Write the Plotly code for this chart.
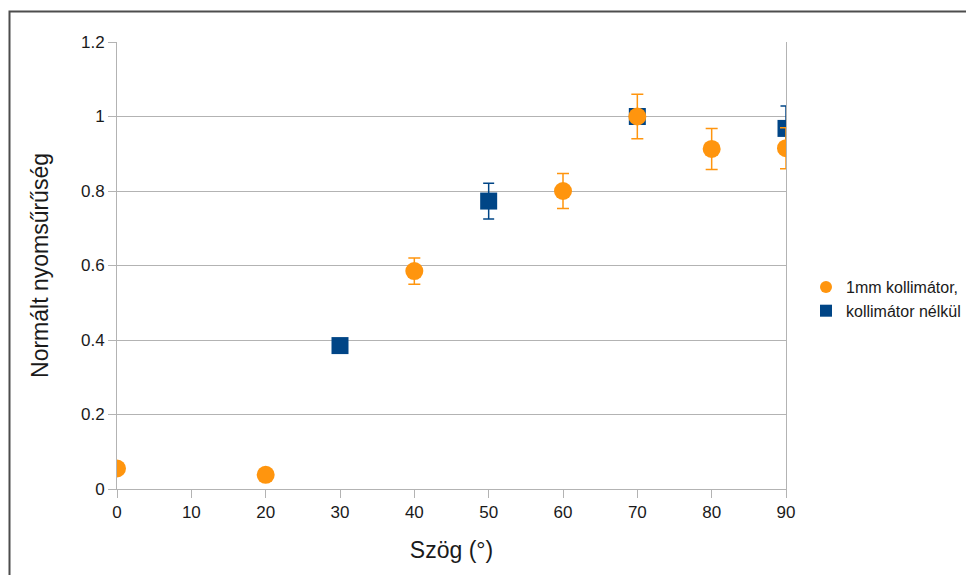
import plotly.graph_objects as go

# Data
angles_1mm = [0, 20, 40, 60, 70, 80, 90]
values_1mm = [0.055, 0.038, 0.585, 0.80, 1.0, 0.913, 0.915]
errors_1mm = [0.0, 0.0, 0.035, 0.047, 0.06, 0.055, 0.055]

angles_nocol = [30, 50, 70, 90]
values_nocol = [0.385, 0.773, 1.0, 0.968]
errors_nocol = [0.01, 0.048, 0.0, 0.06]

name_1mm = "1mm kollimátor,"
name_nocol = "kollimátor nélkül"

x_ticks = [0, 10, 20, 30, 40, 50, 60, 70, 80, 90]
y_ticks = [0, 0.2, 0.4, 0.6, 0.8, 1, 1.2]
y_tick_text = ["0", "0.2", "0.4", "0.6", "0.8", "1", "1.2"]

ORANGE = "#FF950E"
BLUE = "#004586"
GRID = "#b3b3b3"
FONT = "Liberation Sans, Arial, sans-serif"

fig = go.Figure()

fig.add_trace(go.Scatter(
    x=angles_nocol, y=values_nocol, mode="markers", name=name_nocol,
    marker=dict(symbol="square", size=17, color=BLUE),
    error_y=dict(type="data", array=errors_nocol, visible=True,
                 color=BLUE, thickness=1.5, width=5.5),
))
fig.add_trace(go.Scatter(
    x=angles_1mm, y=values_1mm, mode="markers", name=name_1mm,
    marker=dict(symbol="circle", size=18, color=ORANGE),
    error_y=dict(type="data", array=errors_1mm, visible=True,
                 color=ORANGE, thickness=1.5, width=6),
))

# page has an 8px body margin; figure coordinates = page pixels - 8
OFF = 8
W, H = 974 - OFF, 575 - OFF
ml, mt = 117 - OFF, 42 - OFF
mr = W - (786 - OFF)
mb = H - (489 - OFF)
pw, ph = W - ml - mr, H - mt - mb

def px(xp):
    return (xp - OFF - ml) / pw

def py(yp):
    return (H - mb - (yp - OFF)) / ph

fig.add_shape(type="path", xref="paper", yref="paper",
              path=f"M {px(9.5)} {py(600)} L {px(9.5)} {py(11.5)} L {px(973)} {py(11.5)}",
              line=dict(color="#4d4d4d", width=2))

fig.update_layout(
    width=W, height=H,
    margin=dict(l=ml, r=mr, t=mt, b=mb, autoexpand=False),
    paper_bgcolor="white", plot_bgcolor="white",
    font=dict(family=FONT, size=17, color="#1a1a1a"),
    showlegend=True,
    legend=dict(x=px(806), y=py(270), xanchor="left", yanchor="top",
                traceorder="reversed", font=dict(size=16, color="#1a1a1a"),
                bgcolor="rgba(0,0,0,0)", itemwidth=30, itemsizing="constant",
                tracegroupgap=0),
    xaxis=dict(
        range=[0, 90], tickvals=x_ticks, showgrid=False, zeroline=False,
        showline=True, linecolor=GRID, linewidth=1, automargin=False,
        ticks="outside", ticklen=8, tickcolor=GRID,
        tickfont=dict(size=17),
        title=dict(text="Szög (°)", font=dict(size=23), standoff=20),
    ),
    yaxis=dict(
        range=[0, 1.2], tickvals=y_ticks, ticktext=y_tick_text,
        showgrid=True, gridcolor=GRID, gridwidth=1, zeroline=False,
        showline=True, linecolor=GRID, linewidth=1, mirror=True, automargin=False,
        ticks="outside", ticklen=8, tickcolor=GRID,
        tickfont=dict(size=17),
        title=dict(text="Normált nyomsűrűség", font=dict(size=23), standoff=25),
    ),
)

fig.write_html("out.html")
